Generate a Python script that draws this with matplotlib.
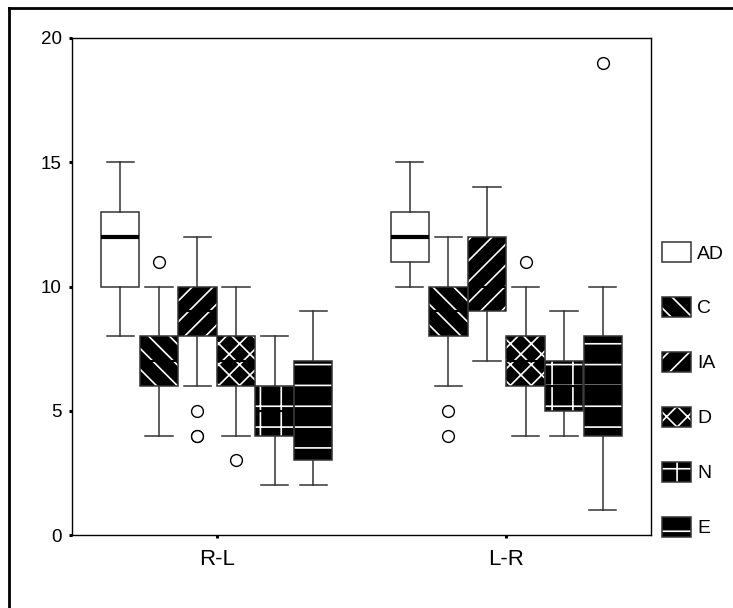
import matplotlib
matplotlib.use("Agg")
import matplotlib.pyplot as plt
from matplotlib.patches import Patch, PathPatch
from matplotlib.lines import Line2D
from matplotlib.legend_handler import HandlerTuple

DPI = 125
K = 100 / DPI  # sizes below were tuned for 100 dpi; scale to keep pixel sizes

plt.rcParams['font.family'] = ['Liberation Sans', 'DejaVu Sans']
plt.rcParams['hatch.linewidth'] = 1.2 * K

# ---- data ----
groups = ['R-L', 'L-R']
series = ['AD', 'C', 'IA', 'D', 'N', 'E']

rl_whislo = [8, 4, 6, 4, 2, 2]
rl_q1 = [10, 6, 8, 6, 4, 3]
rl_med = [12, 7, 9, 7, 5, 5]
rl_q3 = [13, 8, 10, 8, 6, 7]
rl_whishi = [15, 10, 12, 10, 8, 9]
rl_fliers = [[], [11], [5, 4, 4], [3], [], []]

lr_whislo = [10, 6, 7, 4, 4, 1]
lr_q1 = [11, 8, 9, 6, 5, 4]
lr_med = [12, 9, 10, 7, 6, 6]
lr_q3 = [13, 10, 12, 8, 7, 8]
lr_whishi = [15, 12, 14, 10, 9, 10]
lr_fliers = [[], [5, 4], [], [11], [], [19]]

hatches = [None, '\\\\', '//', 'xx', '+', '-']
line_col = '#333333'

fig = plt.figure(figsize=(733 / DPI, 608 / DPI), dpi=DPI)
ax = fig.add_axes([72/733, 1-535/608, (651-72)/733, (535-38)/608])

width = 0.8 / len(series)
all_stats = [
    (rl_whislo, rl_q1, rl_med, rl_q3, rl_whishi, rl_fliers),
    (lr_whislo, lr_q1, lr_med, lr_q3, lr_whishi, lr_fliers),
]

for g, (lo, q1, med, q3, hi, fl) in enumerate(all_stats):
    stats = []
    positions = []
    for i in range(len(series)):
        stats.append(dict(whislo=lo[i], q1=q1[i], med=med[i], q3=q3[i],
                          whishi=hi[i], fliers=fl[i], label=series[i]))
        positions.append(g + (i - (len(series) - 1) / 2) * width)
    bp = ax.bxp(stats, positions=positions, widths=width * 0.995,
                capwidths=width * 0.71, patch_artist=True,
                showfliers=True,
                whiskerprops=dict(color=line_col, lw=1.1 * K),
                capprops=dict(color=line_col, lw=1.1 * K),
                medianprops=dict(color='black', lw=3 * K),
                flierprops=dict(marker='o', markersize=8.5 * K, markerfacecolor='white',
                                markeredgecolor='black', markeredgewidth=1.0 * K))
    for i, box in enumerate(bp['boxes']):
        if hatches[i] is None:
            box.set_facecolor('white')
            box.set_edgecolor(line_col)
            box.set_linewidth(1.1 * K)
        else:
            box.set_facecolor('black')
            box.set_edgecolor('white')
            box.set_linewidth(0)
            box.set_hatch(hatches[i])
            outline = PathPatch(box.get_path(), transform=box.get_transform(),
                                fill=False, edgecolor=line_col, lw=1.1 * K,
                                zorder=box.get_zorder() + 0.2)
            ax.add_patch(outline)
    for i, m in enumerate(bp['medians']):
        m.set_zorder(bp['boxes'][i].get_zorder() + 0.1)
        if hatches[i] is not None:
            m.set_linewidth(1.5 * K)

ax.set_xlim(-0.5, 1.5)
ax.set_ylim(0, 20)
ax.set_xticks(range(len(groups)))
ax.set_xticklabels(groups, fontsize=16 * K)
ax.set_yticks([0, 5, 10, 15, 20])
ax.tick_params(axis='y', labelsize=13.5 * K, direction='out', length=2.2 * K,
               width=2.2 * K, pad=5 * K)
ax.tick_params(axis='x', direction='out', length=2.2 * K, width=2.2 * K, pad=8 * K)
for s in ax.spines.values():
    s.set_linewidth(1.0 * K)
    s.set_color('black')

# legend
handles = []
for i, name in enumerate(series):
    if hatches[i] is None:
        handles.append(Patch(facecolor='white', edgecolor=line_col, lw=1.1 * K))
    else:
        h1 = Patch(facecolor='black', edgecolor='white', hatch=hatches[i], lw=0)
        h2 = Patch(facecolor='none', edgecolor=line_col, lw=1.1 * K)
        handles.append((h1, h2))
fig.legend(handles, series, loc='upper left',
           bbox_to_anchor=(662/733, 1 - 242/608),
           frameon=False, fontsize=14 * K, handlelength=1.5, handleheight=1.2,
           handletextpad=0.3, labelspacing=1.77, borderpad=0, borderaxespad=0,
           handler_map={tuple: HandlerTuple(ndivide=1, pad=0)})

# outer frame
fig.add_artist(Line2D([8.5/733, 8.5/733], [0, 1 - 7.5/608], transform=fig.transFigure,
                      color='black', lw=2.0 * K))
fig.add_artist(Line2D([8.5/733, 1], [1 - 7.5/608, 1 - 7.5/608], transform=fig.transFigure,
                      color='black', lw=2.0 * K))

fig.savefig('out.png', dpi=DPI)
